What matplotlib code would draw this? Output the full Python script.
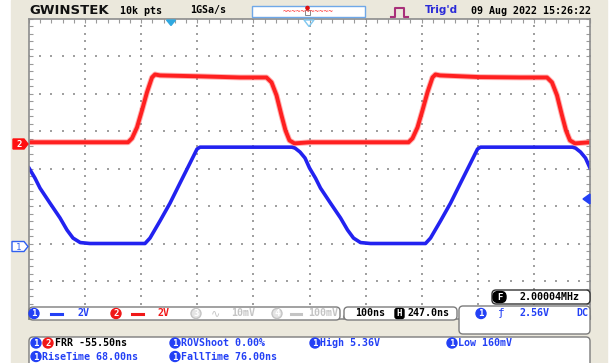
import numpy as np
import matplotlib.pyplot as plt
from matplotlib.patches import Rectangle, FancyBboxPatch, Circle, Polygon

# CH1 (blue) - time in ns from left screen edge, volts
ch1_t = [0, 10.7, 19.6, 37.4, 55.3, 67.7, 78.4, 91.3, 108.7, 206.8, 215.7, 233.5, 251.4, 269.2,
         287.0, 299.5, 304.8, 468.8, 474.2, 483.1, 492.0,
         500.0, 510.7, 519.6, 537.4, 555.3, 567.8, 578.4, 590.9, 608.7, 706.8, 715.7, 733.5, 751.4,
         769.2, 787.0, 799.5, 804.8, 968.8, 974.2, 983.1, 992.0, 1000]
ch1_v = [4.18, 3.64, 3.11, 2.31, 1.52, 0.88, 0.45, 0.21, 0.16, 0.16, 0.45, 1.36, 2.31, 3.38,
         4.44, 5.19, 5.29, 5.29, 5.24, 5.03, 4.71,
         4.18, 3.64, 3.11, 2.31, 1.52, 0.88, 0.45, 0.21, 0.16, 0.16, 0.45, 1.36, 2.31,
         3.38, 4.44, 5.19, 5.29, 5.29, 5.24, 5.03, 4.71, 4.18]

# CH2 (red)
ch2_t = [0, 176.5, 183.6, 192.5, 201.4, 210.3, 219.2, 224.6, 233.5, 304.8, 376.1, 423.3, 432.3,
         441.2, 450.1, 457.2, 464.3, 473.2, 500.9,
         676.5, 683.6, 692.5, 701.4, 710.3, 719.2, 724.6, 732.6, 803.9, 875.2, 923.3, 932.2,
         941.2, 950.1, 957.2, 964.3, 973.2, 1000]
ch2_v = [0.11, 0.11, 0.32, 0.90, 1.81, 2.77, 3.56, 3.72, 3.67, 3.62, 3.56, 3.56, 3.30,
         2.61, 1.54, 0.74, 0.21, 0.05, 0.11,
         0.11, 0.32, 0.90, 1.81, 2.77, 3.56, 3.72, 3.67, 3.58, 3.56, 3.56, 3.30,
         2.61, 1.54, 0.74, 0.21, 0.05, 0.11]

# screen texts
header_texts = ["10k pts", "1GSa/s", "Trig'd", "09 Aug 2022 15:26:22"]
volt_div = ["2V", "2V", "10mV", "100mV"]
timebase = ["100ns", "247.0ns"]
trigger = ["2.56V", "DC"]
freq_text = "2.00004MHz"
meas_row1 = ["FRR -55.50ns", "ROVShoot 0.00%", "High 5.36V", "Low 160mV"]
meas_row2 = ["RiseTime 68.00ns", "FallTime 76.00ns"]

W, H = 611, 363
BEIGE = '#ebe8dc'
BLUE = '#2340f5'
RED = '#ff2020'
GRAY = '#c4c4c4'
MONO = 'DejaVu Sans Mono'

fig = plt.figure(figsize=(W / 100, H / 100), dpi=100)
fig.patch.set_facecolor('white')

# background layer in pixel coords
bg = fig.add_axes([0, 0, 1, 1], zorder=0)
bg.set_xlim(0, W)
bg.set_ylim(H, 0)
bg.axis('off')
bg.add_patch(Rectangle((11, 0), 596, H, color=BEIGE))

# waveform area
x0, x1, y0, y1 = 29, 590, 18.5, 319
ax = fig.add_axes([x0 / W, (H - y1) / H, (x1 - x0) / W, (y1 - y0) / H], zorder=1)
ax.set_facecolor('white')
ax.set_xlim(0, 1000)
ax.set_ylim(0, 8)
for s in ax.spines.values():
    s.set_color('#8c8c8c')
    s.set_linewidth(1.2)
ax.set_xticks(np.arange(0, 1001, 100))
ax.set_yticks(np.arange(0, 9, 1))
ax.set_xticks(np.arange(0, 1001, 20), minor=True)
ax.set_yticks(np.arange(0, 8.01, 0.2), minor=True)
ax.tick_params(which='both', direction='in', length=3, color='#9a9a9a', width=0.8,
               top=True, right=True, labelbottom=False, labelleft=False)

# dotted graticule
dot_y = np.arange(0, 8.01, 0.2)
dot_x = np.arange(0, 1001, 20)
for gx in range(100, 1000, 100):
    ax.scatter(np.full_like(dot_y, gx), dot_y, s=0.8, marker='s', color='#a0a0a0', lw=0)
for gy in range(1, 8):
    ax.scatter(dot_x, np.full_like(dot_x, gy, dtype=float), s=0.8, marker='s', color='#a0a0a0', lw=0)

ch1_off, ch2_off = 1.93, 4.65
ax.plot(ch1_t, ch1_off + np.array(ch1_v) / 2, color='#2222f0', lw=2.6, solid_joinstyle='round')
ax.plot(ch2_t, ch2_off + np.array(ch2_v) / 2, color=RED, lw=4.2, alpha=0.35, solid_joinstyle='round')
ax.plot(ch2_t, ch2_off + np.array(ch2_v) / 2, color=RED, lw=2.8, solid_joinstyle='round')

# overlay layer
ov = fig.add_axes([0, 0, 1, 1], zorder=2)
ov.set_xlim(0, W)
ov.set_ylim(H, 0)
ov.axis('off')
ov.patch.set_alpha(0)


def txt(x, y, s, color='black', size=7.2, ha='left', family=MONO, weight='bold'):
    ov.text(x, y, s, color=color, fontsize=size, ha=ha, va='center', family=family, weight=weight)


def badge(x, y, d, color, hollow=False):
    if hollow:
        ov.add_patch(Circle((x, y), 5, facecolor='#e4e4e4', edgecolor=GRAY, lw=1))
    else:
        ov.add_patch(Circle((x, y), 5, color=color))
    txt(x, y + 0.5, d, color='white', size=6.5, ha='center')


def box(xa, ya, xb, yb, ec='#7c7c7c', fc='white', r=4):
    ov.add_patch(FancyBboxPatch((xa, ya), xb - xa, yb - ya,
                                boxstyle='round,pad=0,rounding_size=%g' % r,
                                facecolor=fc, edgecolor=ec, lw=1))


# header
ov.text(29, 10, "GWINSTEK", fontsize=9.5, weight='heavy', family='DejaVu Sans',
        va='center', ha='left', color='#111111')
txt(120, 10.5, header_texts[0])
txt(190, 10.5, header_texts[1])
ov.text(425, 10, header_texts[2], color='#2a2ad8', fontsize=7.5, weight='bold',
        family='DejaVu Sans', va='center')
txt(471, 10.5, header_texts[3])

# memory bar
ov.add_patch(Rectangle((252, 6), 113, 11, facecolor='white', edgecolor='#6fa8e8', lw=1))
txt(308, 12, "~~~~~~~~~~~", color='#ff4040', size=5.5, ha='center', weight='normal')
ov.add_patch(Rectangle((305, 10), 5, 5, facecolor='white', edgecolor='#888888', lw=0.7))
ov.add_patch(Circle((307.5, 8), 1.6, color='#e01010'))

# pulse icon
ov.plot([391, 395, 395, 404, 404, 408], [17, 17, 8, 8, 17, 17], color='#a8307a', lw=1.5)

# position markers
ov.add_patch(Polygon([(166.5, 20), (175.5, 20), (171, 25.5)], color='#30a8e0'))
ov.add_patch(Polygon([(304, 20), (314, 20), (309, 26.5)], closed=True, fill=False,
                     edgecolor='#80c8f0', lw=1))
ov.add_patch(Polygon([(583, 199), (590, 194), (590, 204)], color=BLUE))

# channel ground markers
ov.add_patch(Polygon([(13, 139), (24, 139), (28, 144), (24, 149), (13, 149)], color='#ff1010'))
txt(19, 144.5, "2", color='white', size=6.5, ha='center')
ov.add_patch(Polygon([(12, 241.5), (24, 241.5), (28, 246.5), (24, 251.5), (12, 251.5)],
                     facecolor='white', edgecolor='#3060f0', lw=1))
txt(19, 247, "1", color='#3060f0', size=6.5, ha='center', weight='normal')

# channel bar
box(29, 307, 340, 320)
yb = 313.5
badge(34, yb, "1", BLUE)
ov.plot([51, 62], [yb, yb], color=BLUE, lw=2.2)
txt(77, yb, volt_div[0], color=BLUE)
badge(116, yb, "2", '#f01818')
ov.plot([132, 143], [yb, yb], color='#f01818', lw=2.2)
txt(157, yb, volt_div[1], color='#f01818')
badge(196, yb, "3", GRAY, hollow=True)
txt(215, yb, "∿", color=GRAY, size=8, ha='center', weight='normal',
    family=['DejaVu Sans', 'Noto Sans', 'Liberation Sans'])
txt(231, yb, volt_div[2], color=GRAY)
badge(277, yb, "4", GRAY, hollow=True)
ov.plot([291, 301], [yb, yb], color=GRAY, lw=2.2)
txt(308, yb, volt_div[3], color=GRAY)

# timebase box
box(344, 307, 457, 320)
txt(355, yb, timebase[0])
box(395, 308.5, 404, 318.5, ec='black', fc='black', r=2)
txt(399.5, yb, "H", color='white', size=6.5, ha='center')
txt(407, yb, timebase[1])

# trigger box
box(459, 306, 590, 334)
badge(481, yb, "1", BLUE)
txt(501, yb, "ƒ", color=BLUE, size=8, ha='center', weight='normal')
txt(519, yb, trigger[0], color=BLUE)
txt(576, yb, trigger[1], color=BLUE)

# frequency box
box(492, 290, 590, 304, ec='#333333')
box(493, 291.5, 506, 302.5, ec='black', fc='black', r=5)
txt(499.5, 297.5, "F", color='white', size=6.5, ha='center')
txt(520, 297.5, freq_text)

# measurement box
box(29, 337, 590, 372)
r1, r2 = 343, 356.5
badge(36, r1, "1", BLUE)
badge(48, r1, "2", '#f01818')
txt(55, r1, meas_row1[0])
badge(175, r1, "1", BLUE)
txt(181, r1, meas_row1[1], color=BLUE)
badge(315, r1, "1", BLUE)
txt(320, r1, meas_row1[2], color=BLUE)
badge(452, r1, "1", BLUE)
txt(458, r1, meas_row1[3], color=BLUE)
badge(36, r2, "1", BLUE)
txt(42, r2, meas_row2[0], color=BLUE)
badge(175, r2, "1", BLUE)
txt(181, r2, meas_row2[1], color=BLUE)

fig.savefig('out.png', dpi=100)
